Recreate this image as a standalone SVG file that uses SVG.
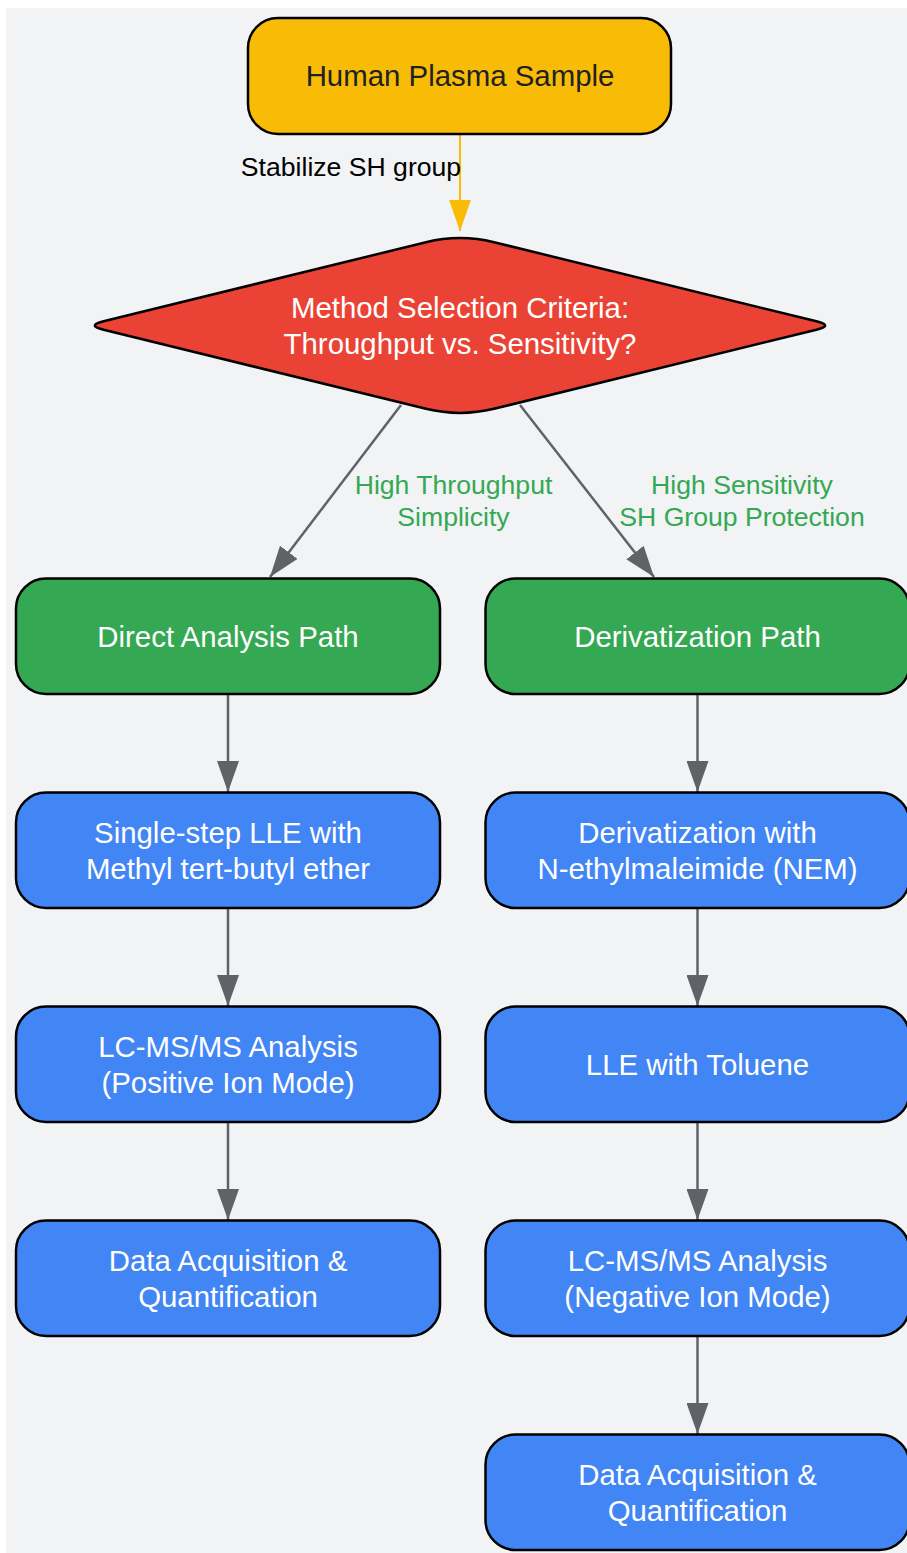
<svg xmlns="http://www.w3.org/2000/svg" width="907" height="1553" viewBox="0 0 907 1553">
<style>
.n{stroke:#000;stroke-width:2.5}
.y{fill:#f9bc06}
.g{fill:#34a853}
.b{fill:#4285f4}
.r{fill:#ea4335}
.t{font-family:"Liberation Sans",Arial,sans-serif;font-size:29.4px;text-anchor:middle;fill:#fff}
.td{fill:#202124}
.el{font-family:"Liberation Sans",Arial,sans-serif;font-size:26.6px;text-anchor:middle}
.c{fill:none;stroke:#5f6368;stroke-width:2.5}
</style>
<defs>
<marker id="ag" markerUnits="userSpaceOnUse" markerWidth="31" markerHeight="22" refX="31" refY="11" orient="auto"><path d="M0,0 L31,11 L0,22 z" fill="#5f6368"/></marker>
<marker id="ay" markerUnits="userSpaceOnUse" markerWidth="31" markerHeight="22" refX="31" refY="11" orient="auto"><path d="M0,0 L31,11 L0,22 z" fill="#f9bc06"/></marker>
</defs>
<rect x="6" y="8" width="901" height="1545" fill="#f1f3f4"/>
<g id="connectors">
<path d="M460,134 V231" fill="none" stroke="#f9bc06" stroke-width="2" marker-end="url(#ay)"/>
<path class="c" d="M401,405 L270,577" marker-end="url(#ag)"/>
<path class="c" d="M520,405 L654,577" marker-end="url(#ag)"/>
<path class="c" d="M228,694 V792" marker-end="url(#ag)"/>
<path class="c" d="M228,908 V1006" marker-end="url(#ag)"/>
<path class="c" d="M228,1122 V1220" marker-end="url(#ag)"/>
<path class="c" d="M697.5,694 V792" marker-end="url(#ag)"/>
<path class="c" d="M697.5,908 V1006" marker-end="url(#ag)"/>
<path class="c" d="M697.5,1122 V1220" marker-end="url(#ag)"/>
<path class="c" d="M697.5,1336 V1434" marker-end="url(#ag)"/>
<text class="el" x="351" y="176" fill="#000">Stabilize SH group</text>
<text class="el" x="453.5" y="493.5" fill="#34a853">High Throughput</text>
<text class="el" x="453.5" y="525.5" fill="#34a853">Simplicity</text>
<text class="el" x="742" y="493.5" fill="#34a853">High Sensitivity</text>
<text class="el" x="742" y="525.5" fill="#34a853">SH Group Protection</text>
</g>
<g id="plasma">
<rect class="n y" x="248" y="18" width="423" height="116" rx="30"/>
<text class="t td" x="460" y="86">Human Plasma Sample</text>
</g>
<g id="decision">
<path class="n r" d="M426,242.2 Q460,234 494,242.2 L816.4,321.3 Q834,325.5 816.4,329.7 L494,408.8 Q460,417 426,408.8 L103.6,329.7 Q86,325.5 103.6,321.3 Z"/>
<text class="t" x="460" y="317.5">Method Selection Criteria:</text>
<text class="t" x="460" y="354">Throughput vs. Sensitivity?</text>
</g>
<g id="direct">
<rect class="n g" x="16" y="578.5" width="424" height="115.5" rx="30"/>
<text class="t" x="228" y="646.5">Direct Analysis Path</text>
</g>
<g id="deriv">
<rect class="n g" x="485.5" y="578.5" width="424" height="115.5" rx="30"/>
<text class="t" x="697.5" y="646.5">Derivatization Path</text>
</g>
<g id="lle_mtbe">
<rect class="n b" x="16" y="792.5" width="424" height="115.5" rx="30"/>
<text class="t" x="228" y="842.5">Single-step LLE with</text>
<text class="t" x="228" y="879">Methyl tert-butyl ether</text>
</g>
<g id="nem">
<rect class="n b" x="485.5" y="792.5" width="424" height="115.5" rx="30"/>
<text class="t" x="697.5" y="842.5">Derivatization with</text>
<text class="t" x="697.5" y="879">N-ethylmaleimide (NEM)</text>
</g>
<g id="lcms_pos">
<rect class="n b" x="16" y="1006.5" width="424" height="115.5" rx="30"/>
<text class="t" x="228" y="1056.5">LC-MS/MS Analysis</text>
<text class="t" x="228" y="1093">(Positive Ion Mode)</text>
</g>
<g id="lle_tol">
<rect class="n b" x="485.5" y="1006.5" width="424" height="115.5" rx="30"/>
<text class="t" x="697.5" y="1074.5">LLE with Toluene</text>
</g>
<g id="data_left">
<rect class="n b" x="16" y="1220.5" width="424" height="115.5" rx="30"/>
<text class="t" x="228" y="1270.5">Data Acquisition &amp;</text>
<text class="t" x="228" y="1307">Quantification</text>
</g>
<g id="lcms_neg">
<rect class="n b" x="485.5" y="1220.5" width="424" height="115.5" rx="30"/>
<text class="t" x="697.5" y="1270.5">LC-MS/MS Analysis</text>
<text class="t" x="697.5" y="1307">(Negative Ion Mode)</text>
</g>
<g id="data_right">
<rect class="n b" x="485.5" y="1434.5" width="424" height="115.5" rx="30"/>
<text class="t" x="697.5" y="1484.5">Data Acquisition &amp;</text>
<text class="t" x="697.5" y="1521">Quantification</text>
</g>
</svg>
